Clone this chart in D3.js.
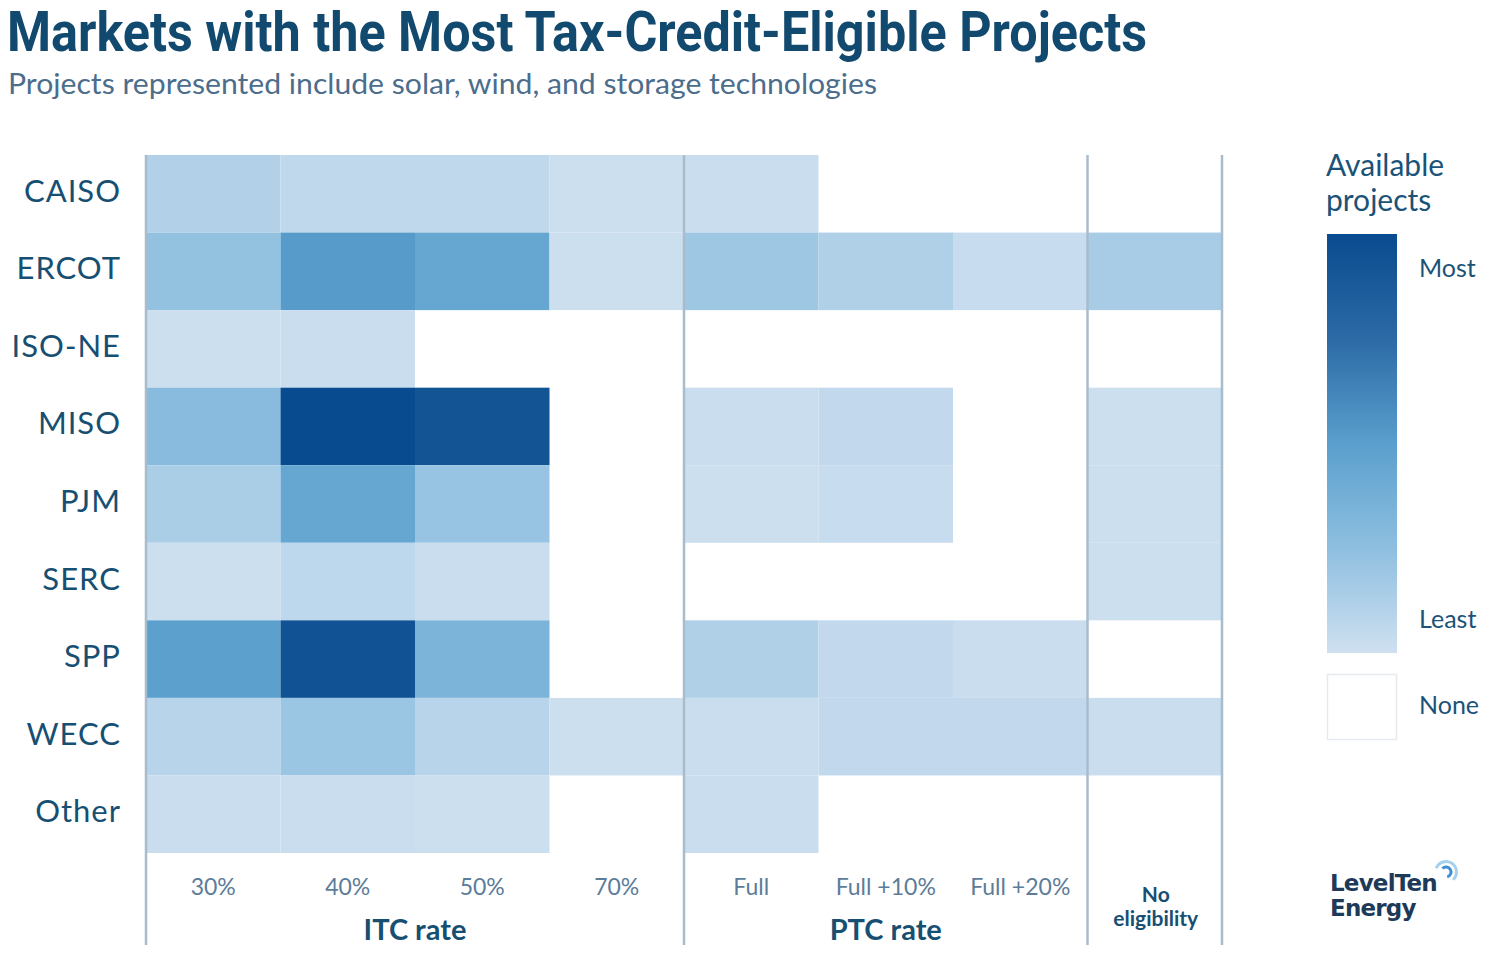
<!DOCTYPE html>
<html>
<head>
<meta charset="utf-8">
<script src="https://cdn.jsdelivr.net/npm/d3@7"></script>
<style>
  body { margin: 0; background: #fff; }
  text { font-family: Lato, "Open Sans", sans-serif; }
</style>
</head>
<body>
<script>
// data (relative share of available projects, 0..100, null = none)
const markets = ["CAISO", "ERCOT", "ISO-NE", "MISO", "PJM", "SERC", "SPP", "WECC", "Other"];
const columns = ["30%", "40%", "50%", "70%", "Full", "Full +10%", "Full +20%", "No eligibility"];

const caiso = [11, 6, 6, 1, 2, null, null, null];
const ercot = [23, 52, 44, 1, 19, 12, 3, 15];
const isone = [1, 2, null, null, null, null, null, null];
const miso  = [28, 100, 93, null, 2, 5, null, 1];
const pjm   = [14, 44, 21, null, 1, 3, null, 1];
const serc  = [1, 7, 2, null, null, null, null, 1];
const spp   = [49, 94, 34, null, 12, 5, 2, null];
const wecc  = [9, 20, 9, 1, 2, 5, 5, 2];
const other = [2, 2, 1, null, 2, null, null, null];
const rows = [caiso, ercot, isone, miso, pjm, serc, spp, wecc, other];

const groups = [
  { name: "ITC rate", first: "30%", last: "70%" },
  { name: "PTC rate", first: "Full", last: "Full +20%" }
];

const W = 1500, H = 953;
const svg = d3.select("body").append("svg")
    .attr("width", W)
    .attr("height", H);

const x = d3.scaleBand().domain(columns).range([146, 1222]);
const y = d3.scaleBand().domain(markets).range([155, 853]);

const stops = ["#cfe0f0", "#8ebfe0", "#5a9fcd", "#2c6aa6", "#094b8f"];
const color = d3.scaleLinear()
    .domain([0, 25, 50, 75, 100])
    .range(stops);

// title
svg.append("text")
    .attr("x", 7).attr("y", 51)
    .attr("textLength", 1140).attr("lengthAdjust", "spacingAndGlyphs")
    .style("font-family", "'Liberation Sans Narrow', Roboto, sans-serif")
    .style("font-weight", 700)
    .style("font-size", "56px")
    .style("fill", "#124a6f")
    .text("Markets with the Most Tax-Credit-Eligible Projects");

svg.append("text")
    .attr("x", 8).attr("y", 94)
    .attr("textLength", 869).attr("lengthAdjust", "spacingAndGlyphs")
    .style("font-size", "29px")
    .style("fill", "#4c6d8c")
    .text("Projects represented include solar, wind, and storage technologies");

// cells
const cells = [];
rows.forEach(function(r, i) {
  r.forEach(function(v, j) {
    if (v !== null) cells.push({ market: markets[i], col: columns[j], value: v });
  });
});

svg.append("g").selectAll("rect")
    .data(cells)
    .enter()
    .append("rect")
    .attr("x", d => x(d.col))
    .attr("y", d => y(d.market))
    .attr("width", x.bandwidth())
    .attr("height", y.bandwidth())
    .attr("fill", d => color(d.value));

// vertical separators
const lines = [x("30%"), x("Full"), x("No eligibility"), x.range()[1]];
svg.append("g").selectAll("line")
    .data(lines)
    .enter()
    .append("line")
    .attr("x1", d => d).attr("x2", d => d)
    .attr("y1", 155).attr("y2", 945)
    .attr("stroke", "#a9bccc")
    .attr("stroke-width", 2.5);

// row labels
svg.append("g").selectAll("text")
    .data(markets)
    .enter()
    .append("text")
    .attr("x", 121)
    .attr("y", d => y(d) + y.bandwidth() / 2 + 8)
    .attr("text-anchor", "end")
    .style("font-size", "31px")
    .style("letter-spacing", "1px")
    .style("fill", "#174f73")
    .text(d => d);

// column labels
svg.append("g").selectAll("text")
    .data(columns.slice(0, 7))
    .enter()
    .append("text")
    .attr("x", d => x(d) + x.bandwidth() / 2)
    .attr("y", 895)
    .attr("text-anchor", "middle")
    .style("font-size", "23px")
    .style("fill", "#5c7c99")
    .text(d => d);

const noElig = svg.append("text")
    .attr("text-anchor", "middle")
    .style("font-size", "21px")
    .style("font-weight", 700)
    .style("fill", "#174f73");
noElig.append("tspan").attr("x", x("No eligibility") + x.bandwidth() / 2 + 1).attr("y", 902).text("No");
noElig.append("tspan").attr("x", x("No eligibility") + x.bandwidth() / 2 + 1).attr("y", 926).text("eligibility");

// group labels
svg.append("g").selectAll("text")
    .data(groups)
    .enter()
    .append("text")
    .attr("x", d => (x(d.first) + x(d.last) + x.bandwidth()) / 2)
    .attr("y", 940)
    .attr("text-anchor", "middle")
    .style("font-size", "29px")
    .style("font-weight", 700)
    .style("fill", "#174f73")
    .text(d => d.name);

// legend
const defs = svg.append("defs");
const grad = defs.append("linearGradient")
    .attr("id", "legendGrad")
    .attr("x1", 0).attr("y1", 1).attr("x2", 0).attr("y2", 0);
grad.selectAll("stop")
    .data(stops)
    .enter()
    .append("stop")
    .attr("offset", (d, i) => i / (stops.length - 1))
    .attr("stop-color", d => d);

const lt = svg.append("text")
    .style("font-size", "30px")
    .style("fill", "#1b5378");
lt.append("tspan").attr("x", 1326).attr("y", 176).text("Available");
lt.append("tspan").attr("x", 1326).attr("y", 211).text("projects");

svg.append("rect")
    .attr("x", 1327).attr("y", 234)
    .attr("width", 70).attr("height", 419)
    .attr("fill", "url(#legendGrad)");

svg.append("rect")
    .attr("x", 1327.5).attr("y", 674.5)
    .attr("width", 69).attr("height", 65)
    .attr("fill", "#fff")
    .attr("stroke", "#e6eaee")
    .attr("stroke-width", 1.5);

const legendLabels = [["Most", 277], ["Least", 628], ["None", 714]];
svg.append("g").selectAll("text")
    .data(legendLabels)
    .enter()
    .append("text")
    .attr("x", 1419)
    .attr("y", d => d[1])
    .style("font-size", "25px")
    .style("fill", "#1b5378")
    .text(d => d[0]);

// logo
const logo = svg.append("text")
    .style("font-family", "'DejaVu Sans', sans-serif")
    .style("font-size", "23px")
    .style("font-weight", 700)
    .style("letter-spacing", "-0.8px")
    .style("fill", "#1d3a58");
logo.append("tspan").attr("x", 1330).attr("y", 891).text("LevelTen");
logo.append("tspan").attr("x", 1330).attr("y", 916).text("Energy");

const arc = d3.arc();
const icon = svg.append("g").attr("transform", "translate(1446,872)");
icon.append("path")
    .attr("d", arc({ innerRadius: 9, outerRadius: 12, startAngle: -1.2, endAngle: 2.4 }))
    .attr("fill", "#a6d0f0");
icon.append("path")
    .attr("d", arc({ innerRadius: 3.5, outerRadius: 6.5, startAngle: -0.8, endAngle: 2.9 }))
    .attr("fill", "#3f8fd4");
</script>
</body>
</html>
